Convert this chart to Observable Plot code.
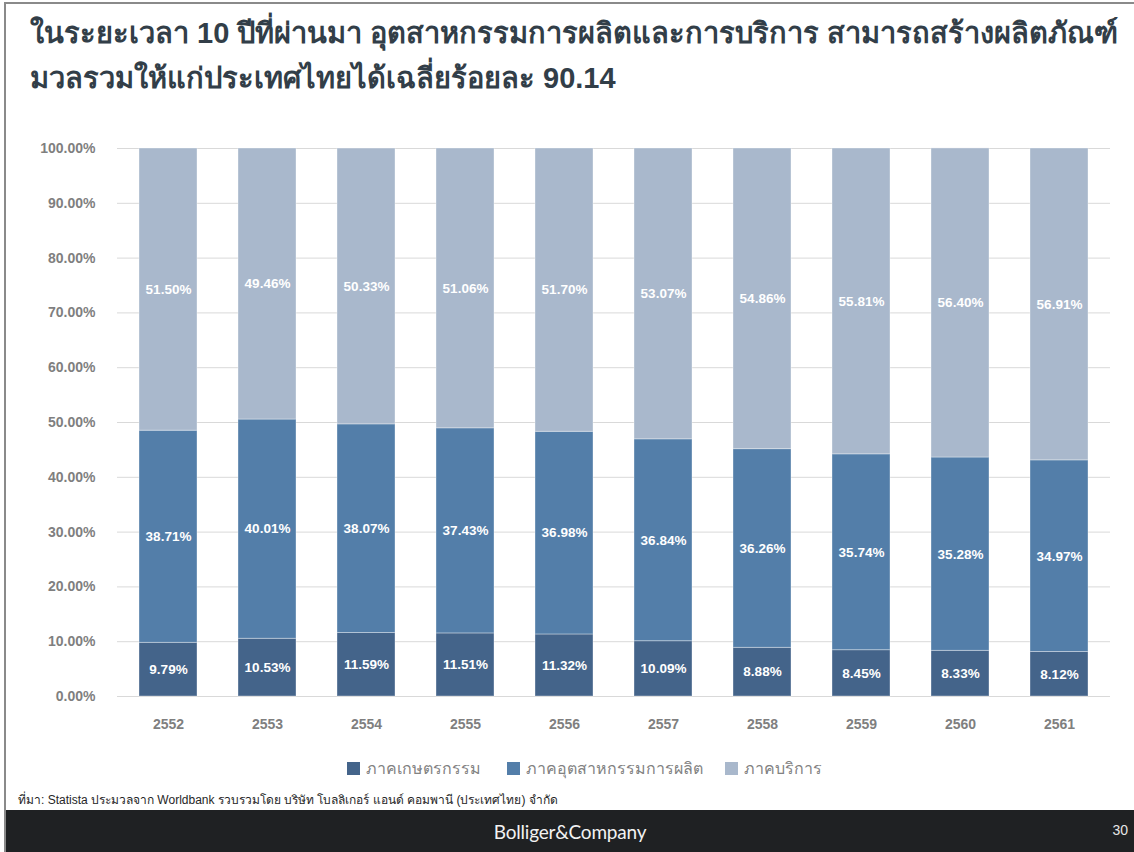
<!DOCTYPE html>
<html>
<head>
<meta charset="utf-8">
<script src="https://cdn.jsdelivr.net/npm/d3@7"></script>
<script src="https://cdn.jsdelivr.net/npm/@observablehq/plot@0.6"></script>
<style>
  html, body { margin: 0; padding: 0; background: #fff; }
  #page { position: relative; width: 1134px; height: 852px; overflow: hidden; background: #fff;
          font-family: "Liberation Sans", Arial, "Noto Sans", sans-serif; }
  #topline { position: absolute; left: 4px; top: 2px; width: 1130px; height: 2px; background: #8a8a8a; }
  #leftline { position: absolute; left: 4px; top: 2px; width: 2px; height: 850px; background: #8a8a8a; }
  #title { position: absolute; left: 30px; top: 11px; width: 1104px; font-weight: bold; font-size: 29px;
           line-height: 45px; color: #323e48; white-space: nowrap; }
  #chart { position: absolute; left: 0; top: 110px; }
  #legend { position: absolute; top: 756px; left: 0; width: 1134px; height: 20px; }
  .lg { position: absolute; top: 0; display: flex; align-items: center; font-size: 16px; color: #828282; white-space: nowrap; }
  .sw { width: 13px; height: 13px; margin-right: 6px; display: inline-block; }
  #caption { position: absolute; left: 18px; top: 790px; font-size: 12px; color: #262626; }
  #footer { position: absolute; left: 6px; top: 810px; width: 1128px; height: 42px; background: #1f2123; }
  #brand { position: absolute; left: 0; width: 1128px; top: 10px; text-align: center; color: #f2f2f2;
           font-family: "Lato", "Open Sans", sans-serif; font-size: 19px; letter-spacing: -0.2px; }
  #pnum { position: absolute; right: 6px; top: 12px; color: #e6e6e6; font-size: 14px; }
</style>
</head>
<body>
<div id="page">
  <div id="topline"></div>
  <div id="leftline"></div>
  <div id="title">ในระยะเวลา 10 ปีที่ผ่านมา อุตสาหกรรมการผลิตและการบริการ สามารถสร้างผลิตภัณฑ์<br>มวลรวมให้แก่ประเทศไทยได้เฉลี่ยร้อยละ 90.14</div>
  <div id="chart"></div>
  <div id="legend"></div>
  <div id="caption">ที่มา: Statista ประมวลจาก Worldbank รวบรวมโดย บริษัท โบลลิเกอร์ แอนด์ คอมพานี (ประเทศไทย) จำกัด</div>
  <div id="footer"><div id="brand">Bolliger&amp;Company</div><div id="pnum">30</div></div>
</div>
<script>
const years = ["2552","2553","2554","2555","2556","2557","2558","2559","2560","2561"];
const sectors = ["ภาคเกษตรกรรม","ภาคอุตสาหกรรมการผลิต","ภาคบริการ"];
const colors = ["#44648a","#537ea9","#a9b8cc"];
const agriculture = [9.79,10.53,11.59,11.51,11.32,10.09,8.88,8.45,8.33,8.12];
const industry = [38.71,40.01,38.07,37.43,36.98,36.84,36.26,35.74,35.28,34.97];
const services = [51.50,49.46,50.33,51.06,51.70,53.07,54.86,55.81,56.40,56.91];
const yTicks = [0,0.1,0.2,0.3,0.4,0.5,0.6,0.7,0.8,0.9,1.0];

const series = [agriculture, industry, services];
const data = [];
years.forEach((yr, i) => {
  sectors.forEach((s, j) => {
    data.push({year: yr, sector: s, value: series[j][i] / 100});
  });
});

const pct = d3.format(".2%");

const chart = Plot.plot({
  width: 1134,
  height: 630,
  marginTop: 38,
  marginBottom: 44,
  marginLeft: 117,
  marginRight: 24,
  style: {fontFamily: "'Liberation Sans', Arial, sans-serif", background: "transparent"},
  x: {domain: years, paddingInner: 0.415, paddingOuter: 0.2075, label: null},
  y: {domain: [0, 1], label: null},
  color: {domain: sectors, range: colors},
  marks: [
    Plot.gridY(yTicks, {stroke: "#d9d9d9", strokeOpacity: 1, strokeWidth: 1}),
    Plot.barY(data, Plot.stackY({x: "year", y: "value", fill: "sector", stroke: "#ffffff", strokeOpacity: 0.35, strokeWidth: 1})),
    Plot.text(data, Plot.stackY({x: "year", y: "value", z: "sector", text: d => pct(d.value), fill: "white", fontWeight: "bold", fontSize: 13.5})),
    Plot.axisY({ticks: yTicks, tickFormat: pct, tickSize: 0, tickPadding: 22, fill: "#7f7f7f", fontWeight: "bold", fontSize: 14, label: null}),
    Plot.axisX({tickSize: 0, tickPadding: 23, fill: "#7f7f7f", fontWeight: "bold", fontSize: 14, label: null})
  ]
});
document.getElementById("chart").appendChild(chart);

const legendX = [347, 507, 725];
const legend = document.getElementById("legend");
sectors.forEach((s, j) => {
  const item = document.createElement("div");
  item.className = "lg";
  item.style.left = legendX[j] + "px";
  const sw = document.createElement("span");
  sw.className = "sw";
  sw.style.background = colors[j];
  item.appendChild(sw);
  const t = document.createElement("span");
  t.textContent = s;
  item.appendChild(t);
  legend.appendChild(item);
});
</script>
</body>
</html>
